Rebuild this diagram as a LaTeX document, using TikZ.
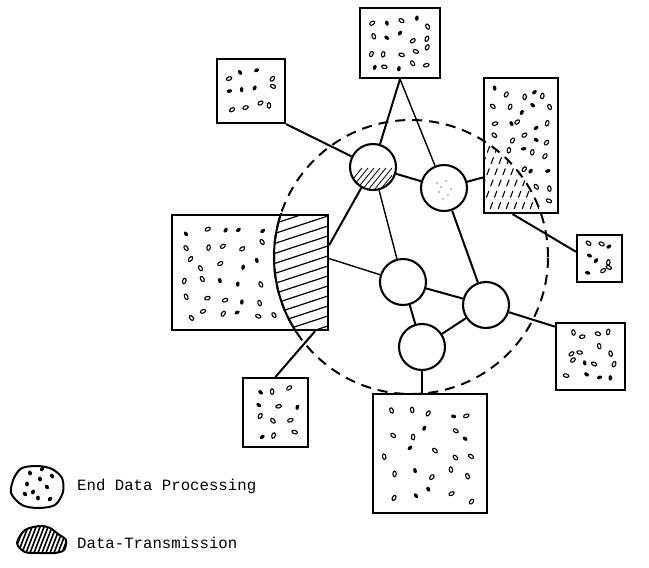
\documentclass[tikz,border=0pt]{standalone}
\usepackage{fontspec}
\newfontfamily\tw{Liberation Mono}
\newcommand\dotgrid[6]{%
  \foreach \i in {1,...,#5}{\foreach \j in {1,...,#6}{%
    \pgfmathsetmacro\px{#1+(\i-0.5)*(#3-#1)/#5+rand*0.32*(#3-#1)/#5}%
    \pgfmathsetmacro\py{#2+(\j-0.5)*(#4-#2)/#6+rand*0.32*(#4-#2)/#6}%
    \pgfmathsetmacro\rot{rnd*160-80}%
    \pgfmathtruncatemacro\fl{rnd<0.3 ? 1 : 0}%
    \pgfmathsetmacro\inc{((\px-411)/10)^2+((\py-257)/10)^2}%
    \ifdim\inc pt>200pt
      \ifnum\fl=1
        \fill (\px,\py) ellipse[x radius=1.8pt,y radius=2.7pt,rotate=\rot];
      \else
        \draw[dotmark] (\px,\py) ellipse[x radius=1.7pt,y radius=2.8pt,rotate=\rot];
      \fi
    \fi
  }}}
\begin{document}
\begin{tikzpicture}[x=1pt,y=-1pt,
  box/.style={draw,line width=2.2pt,rectangle,inner sep=0pt},
  hub/.style={draw,circle,line width=2.1pt,minimum size=46pt,inner sep=0pt},
  ringstyle/.style={draw,circle,line width=2pt,dash pattern=on 10pt off 7pt,minimum size=274pt,inner sep=0pt},
  link/.style={line width=2pt},
  thinlink/.style={line width=1.4pt},
  hatchline/.style={line width=1.2pt},
  dotmark/.style={line width=1.1pt},
  legendtext/.style={anchor=west,inner sep=0pt,font=\tw\fontsize{15.7}{18}\selectfont}]
\useasboundingbox (0,0) rectangle (649,568);
\pgfmathsetseed{7}

% hatching (data transmission parts)
\begin{scope}
  \clip (172,215) rectangle (328,330);
  \clip (411,257) circle[radius=137pt];
  \foreach \k in {205,215,...,375}{\draw[hatchline] (270,\k) -- (340,\k-23);}
\end{scope}
\begin{scope}
  \clip (484,78) rectangle (558,213);
  \clip (411,257) circle[radius=137pt];
  \foreach \k in {462,470,...,560}{\draw[line width=1.1pt,dash pattern=on 7pt off 5pt] (\k,220) -- (\k+30,140);}
\end{scope}
% solid arc of the ring inside the left box
\begin{scope}
  \clip (172,213) rectangle (328,332);
  \draw[line width=2pt] (411,257) circle[radius=137pt];
\end{scope}
% hatch in hub A
\begin{scope}
  \clip (373,167) circle[radius=22pt];
  \clip (352,162) rectangle (392,192);
  \foreach \k in {340,346,...,390}{\draw[line width=0.8pt] (\k,195) -- (\k+22,168);}
\end{scope}
% specks in hub B
\foreach \p in {(437,183),(441,187),(446,181),(439,192),(448,195),(443,199),(451,189)}
  \fill \p circle[radius=0.7pt];

% boxes
\node[box,minimum width=80pt,minimum height=70pt] (top) at (400,43) {};
\node[box,minimum width=68pt,minimum height=64pt] (ul) at (251,91) {};
\node[box,minimum width=74pt,minimum height=135pt] (ur) at (521,145.5) {};
\node[box,minimum width=45pt,minimum height=47pt] (sr) at (599.5,258.5) {};
\node[box,minimum width=156pt,minimum height=115pt] (lb) at (250,272.5) {};
\node[box,minimum width=65pt,minimum height=69pt] (ll) at (275.5,412.5) {};
\node[box,minimum width=69pt,minimum height=67pt] (rl) at (590.5,356.5) {};
\node[box,minimum width=114pt,minimum height=119pt] (bot) at (430,453.5) {};

% dots (end data processing)
\dotgrid{366}{15}{434}{72}{5}{4}
\dotgrid{223}{65}{279}{117}{4}{3}
\dotgrid{490}{85}{552}{207}{5}{8}
\dotgrid{582}{241}{617}{277}{3}{3}
\dotgrid{178}{221}{322}{324}{8}{6}
\dotgrid{249}{384}{302}{441}{3}{4}
\dotgrid{562}{329}{619}{384}{4}{4}
\dotgrid{380}{401}{480}{506}{5}{5}

% hubs
\node[hub] (A) at (373,167) {};
\node[hub] (B) at (444,188) {};
\node[hub] (C) at (403,282) {};
\node[hub] (D) at (486,305) {};
\node[hub] (E) at (422,347) {};

% ring
\node[ringstyle] (ring) at (411,257) {};

% connectors
\draw[link] (top.south) -- (A);
\draw[thinlink] (top.south) -- (B);
\draw[link] (ul.south east) -- (A);
\draw[link] (A) -- (B);
\draw[link] (A) -- (lb.19);
\draw[thinlink] (A) -- (C);
\draw[link] (B) -- (ur.220);
\draw[link] (B) -- (D);
\draw[thinlink] (lb.10) -- (C);
\draw[link] (C) -- (D);
\draw[link] (C) -- (E);
\draw[link] (E) -- (D);
\draw[link] (D) -- (rl.140);
\draw[link] (E) -- (E |- bot.north);
\draw[link] (ur.263) -- (sr.164);
\draw[link] (lb.-42) -- (ll.north);

% legend
\draw[line width=2pt] plot[smooth cycle] coordinates
  {(14,478) (22,468) (38,466) (52,469) (62,478) (63,492) (55,505) (38,508) (22,505) (11,493)};
\foreach \p/\r in {(30,473)/20,(42,469)/-30,(40,479)/10,(27,484)/0,(47,487)/30,(33,492)/-20,(25,494)/40,(38,498)/0,(50,499)/-40,(52,476)/20}
  \fill \p ellipse[x radius=1.9pt,y radius=2.5pt,rotate=\r];
\begin{scope}
  \clip plot[smooth cycle] coordinates
    {(17,543) (25,530) (40,526) (50,528) (58,534) (66,540) (64,550) (55,553) (40,553) (25,552)};
  \foreach \k in {0,4,...,68}{\draw[line width=1.6pt] (\k,558) -- (\k+14,522);}
\end{scope}
\draw[line width=2pt] plot[smooth cycle] coordinates
  {(17,543) (25,530) (40,526) (50,528) (58,534) (66,540) (64,550) (55,553) (40,553) (25,552)};
\node[legendtext] (lt1) at (77,486) {End Data Processing};
\node[legendtext] (lt2) at (77,543) {Data-Transmission};
\end{tikzpicture}
\end{document}
